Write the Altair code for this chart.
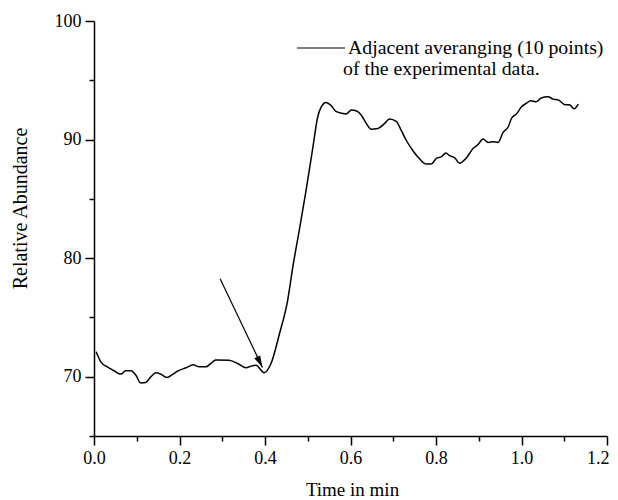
import altair as alt
import pandas as pd

# --- data ---
time_min = [0.005, 0.016, 0.031, 0.047, 0.063, 0.074, 0.086, 0.098, 0.109, 0.121,
            0.133, 0.145, 0.156, 0.170, 0.184, 0.195, 0.215, 0.232, 0.246, 0.262,
            0.273, 0.285, 0.316, 0.336, 0.356, 0.367, 0.379, 0.398, 0.414, 0.434,
            0.453, 0.465, 0.480, 0.496, 0.512, 0.523, 0.531, 0.543, 0.555, 0.566,
            0.578, 0.590, 0.602, 0.613, 0.625, 0.637, 0.648, 0.664, 0.680, 0.691,
            0.707, 0.719, 0.731, 0.746, 0.762, 0.777, 0.789, 0.801, 0.813, 0.823,
            0.832, 0.844, 0.855, 0.871, 0.887, 0.898, 0.910, 0.922, 0.934, 0.945,
            0.957, 0.969, 0.977, 0.988, 1.000, 1.012, 1.021, 1.034, 1.045, 1.062,
            1.074, 1.086, 1.102, 1.112, 1.123, 1.133]
abundance = [72.10, 71.25, 70.83, 70.50, 70.22, 70.50, 70.50, 70.13, 69.48, 69.52,
             69.99, 70.33, 70.22, 69.94, 70.19, 70.47, 70.75, 71.00, 70.83, 70.83,
             71.11, 71.42, 71.39, 71.11, 70.75, 70.89, 70.97, 70.33, 71.11, 73.64,
             76.44, 79.24, 82.33, 85.70, 89.34, 91.86, 92.71, 93.13, 92.85, 92.37,
             92.23, 92.15, 92.49, 92.43, 92.07, 91.36, 90.88, 90.94, 91.36, 91.73,
             91.53, 90.75, 89.90, 89.06, 88.36, 87.94, 87.94, 88.42, 88.56, 88.87,
             88.64, 88.45, 88.00, 88.45, 89.26, 89.57, 90.04, 89.76, 89.82, 89.76,
             90.60, 91.08, 91.81, 92.15, 92.76, 93.07, 93.27, 93.19, 93.49, 93.61,
             93.41, 93.35, 92.93, 92.93, 92.60, 92.99]

arrow_x = [0.295, 0.394]
arrow_y = [78.27, 70.78]

x_ticks = [0.0, 0.1, 0.2, 0.3, 0.4, 0.5, 0.6, 0.7, 0.8, 0.9, 1.0, 1.1, 1.2]
y_ticks = [65, 70, 75, 80, 85, 90, 95, 100]

legend_lines = ["Adjacent averanging (10 points)", "of the experimental data."]
x_title = "Time in min"
y_title = "Relative Abundance"

FONT = "Liberation Serif"

df = pd.DataFrame({"t": time_min, "a": abundance})
arrow_df = pd.DataFrame({"t": arrow_x, "a": arrow_y})
head_df = arrow_df.iloc[[1]]

x_scale = alt.Scale(domain=[0, 1.2], nice=False, zero=False)
y_scale = alt.Scale(domain=[65, 100], nice=False, zero=False)

x_axis = alt.Axis(
    values=x_ticks,
    labelExpr="round(datum.value*10) % 2 == 0 ? format(datum.value, '.1f') : ''",
    tickSize=alt.condition("round(datum.value*10) % 2 == 0", alt.value(9), alt.value(5)),
    labelAlign=alt.condition("datum.value > 1.15", alt.value("right"), alt.value("center")),
    labelOffset=alt.condition("datum.value > 1.15", alt.value(2), alt.value(0)),
    labelPadding=4,
    labelFlush=False,
    labelOverlap=False,
    labelBound=False,
    title=x_title,
    titleFontSize=19,
    titleX=258,
    titleY=53,
    titleBaseline="middle",
)
y_axis = alt.Axis(
    values=y_ticks,
    labelExpr="datum.value % 10 == 0 ? format(datum.value, 'd') : ''",
    tickSize=alt.condition("datum.value % 10 == 0", alt.value(9), alt.value(5)),
    labelPadding=4,
    labelFlush=False,
    labelOverlap=False,
    title=y_title,
    titleFontSize=20,
    titleX=-74,
    titleY=187,
    titleAlign="center",
    titleBaseline="middle",
)

line = alt.Chart(df).mark_line(color="black", strokeWidth=1.5, interpolate="monotone").encode(
    x=alt.X("t:Q", scale=x_scale, axis=x_axis),
    y=alt.Y("a:Q", scale=y_scale, axis=y_axis),
)

shaft = alt.Chart(arrow_df).mark_line(color="black", strokeWidth=1.2).encode(
    x=alt.X("t:Q", scale=x_scale), y=alt.Y("a:Q", scale=y_scale)
)
head = alt.Chart(head_df).mark_point(
    shape="M0,0 L-0.28,1 L0.28,1 Z", filled=True, color="black", opacity=1,
    size=560, angle=154,
).encode(x=alt.X("t:Q", scale=x_scale), y=alt.Y("a:Q", scale=y_scale))

one = alt.Data(values=[{}])
leg_rule = alt.Chart(one).mark_rule(color="black", strokeWidth=1.2).encode(
    x=alt.value(203), x2=alt.value(251), y=alt.value(27)
)
leg_t1 = alt.Chart(one).mark_text(
    text=legend_lines[0], align="left", baseline="middle", font=FONT, fontSize=19.8, color="black"
).encode(x=alt.value(254), y=alt.value(27))
leg_t2 = alt.Chart(one).mark_text(
    text=legend_lines[1], align="left", baseline="middle", font=FONT, fontSize=19.8, color="black"
).encode(x=alt.value(249), y=alt.value(48))

chart = alt.layer(line, shaft, head, leg_rule, leg_t1, leg_t2).properties(
    width=513, height=415,
    background="white",
    autosize=alt.AutoSizeParams(type="none"),
    padding={"left": 86, "top": 13, "right": 2, "bottom": 64},
).configure_view(stroke=None).configure_axis(
    grid=False,
    domainColor="black", domainWidth=1.5,
    tickColor="black", tickWidth=1.5,
    labelFont=FONT, labelFontSize=18, labelColor="black",
    titleFont=FONT, titleFontWeight="normal", titleColor="black",
)

chart.save("out.html", embed_options={"renderer": "svg", "actions": False})
